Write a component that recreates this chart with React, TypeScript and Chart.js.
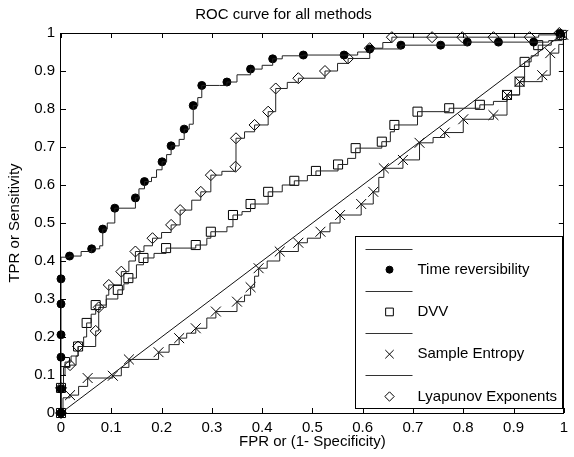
import { useEffect, useRef } from 'react';
import { Chart, registerables } from 'chart.js';

Chart.register(...registerables);

const FONT_FAMILY = '"Liberation Sans", Arial, Helvetica, sans-serif';

const TITLE = 'ROC curve for all methods';
const X_TITLE = 'FPR or (1- Specificity)';
const Y_TITLE = 'TPR or Sensitivity';

const TICK_VALUES = [0, 0.1, 0.2, 0.3, 0.4, 0.5, 0.6, 0.7, 0.8, 0.9, 1];
const TICK_LABELS = ['0', '0.1', '0.2', '0.3', '0.4', '0.5', '0.6', '0.7', '0.8', '0.9', '1'];

const SERIES_NAMES = ['Time reversibility', 'DVV', 'Sample Entropy', 'Lyapunov Exponents'];

// Time reversibility
const TR_LINE_X = [0, 0, 0.017, 0.04, 0.061, 0.077, 0.083, 0.092, 0.107, 0.148, 0.155, 0.166, 0.18, 0.19, 0.201, 0.21, 0.219, 0.235, 0.245, 0.255, 0.263, 0.272, 0.28, 0.315, 0.33, 0.35, 0.377, 0.40, 0.421, 0.44, 0.482, 0.563, 0.59, 0.614, 0.676, 0.755, 0.808, 0.87, 0.94, 0.97, 0.985, 0.992, 1];
const TR_LINE_Y = [0, 0.41, 0.413, 0.425, 0.432, 0.44, 0.484, 0.50, 0.539, 0.566, 0.59, 0.609, 0.62, 0.64, 0.661, 0.68, 0.703, 0.72, 0.747, 0.76, 0.809, 0.83, 0.862, 0.862, 0.871, 0.89, 0.905, 0.915, 0.932, 0.94, 0.942, 0.942, 0.95, 0.958, 0.968, 0.968, 0.976, 0.976, 0.976, 0.98, 0.99, 0.999, 1];
const TR_MARK_X = [0, 0, 0, 0, 0, 0, 0.017, 0.061, 0.083, 0.107, 0.148, 0.166, 0.201, 0.219, 0.245, 0.263, 0.28, 0.33, 0.377, 0.421, 0.482, 0.563, 0.614, 0.676, 0.755, 0.808, 0.87, 0.94, 0.992];
const TR_MARK_Y = [0, 0.063, 0.147, 0.206, 0.287, 0.353, 0.413, 0.432, 0.484, 0.539, 0.566, 0.609, 0.661, 0.703, 0.747, 0.809, 0.862, 0.871, 0.905, 0.932, 0.942, 0.942, 0.958, 0.968, 0.968, 0.976, 0.976, 0.976, 0.999];

// DVV
const DVV_LINE_X = [0, 0, 0.005, 0.008, 0.02, 0.034, 0.045, 0.051, 0.06, 0.069, 0.09, 0.113, 0.125, 0.134, 0.15, 0.164, 0.185, 0.209, 0.268, 0.29, 0.298, 0.33, 0.342, 0.36, 0.377, 0.412, 0.44, 0.464, 0.49, 0.507, 0.551, 0.57, 0.586, 0.638, 0.655, 0.663, 0.709, 0.772, 0.833, 0.86, 0.887, 0.912, 0.922, 0.935, 0.949, 0.975, 0.996, 1];
const DVV_LINE_Y = [0, 0.066, 0.1, 0.134, 0.15, 0.175, 0.2, 0.237, 0.26, 0.284, 0.30, 0.324, 0.34, 0.355, 0.39, 0.408, 0.42, 0.434, 0.442, 0.46, 0.477, 0.49, 0.521, 0.53, 0.55, 0.582, 0.60, 0.611, 0.625, 0.637, 0.654, 0.67, 0.697, 0.714, 0.74, 0.758, 0.793, 0.802, 0.811, 0.82, 0.837, 0.872, 0.924, 0.94, 0.968, 0.98, 0.995, 1];
const DVV_MARK_X = [0, 0, 0.008, 0.034, 0.051, 0.069, 0.113, 0.134, 0.164, 0.209, 0.268, 0.298, 0.342, 0.377, 0.412, 0.464, 0.507, 0.551, 0.586, 0.638, 0.663, 0.709, 0.772, 0.833, 0.887, 0.912, 0.922, 0.949, 0.996];
const DVV_MARK_Y = [0, 0.066, 0.134, 0.175, 0.237, 0.284, 0.324, 0.355, 0.408, 0.434, 0.442, 0.477, 0.521, 0.55, 0.582, 0.611, 0.637, 0.654, 0.697, 0.714, 0.758, 0.793, 0.802, 0.811, 0.837, 0.872, 0.924, 0.968, 0.995];

// Sample Entropy
const SE_LINE_X = [0, 0.004, 0.018, 0.035, 0.053, 0.103, 0.12, 0.135, 0.194, 0.215, 0.235, 0.25, 0.268, 0.29, 0.308, 0.35, 0.365, 0.377, 0.385, 0.393, 0.41, 0.435, 0.472, 0.49, 0.516, 0.535, 0.555, 0.597, 0.621, 0.632, 0.642, 0.68, 0.713, 0.74, 0.763, 0.80, 0.86, 0.887, 0.912, 0.957, 0.973, 0.99, 0.999, 1];
const SE_LINE_Y = [0, 0.04, 0.047, 0.07, 0.092, 0.098, 0.12, 0.141, 0.16, 0.18, 0.197, 0.21, 0.223, 0.25, 0.267, 0.293, 0.31, 0.331, 0.36, 0.381, 0.40, 0.425, 0.448, 0.46, 0.477, 0.50, 0.521, 0.55, 0.582, 0.62, 0.644, 0.666, 0.711, 0.725, 0.738, 0.773, 0.784, 0.837, 0.872, 0.889, 0.947, 0.97, 0.995, 1];
const SE_MARK_X = [0.018, 0.053, 0.103, 0.135, 0.194, 0.235, 0.268, 0.308, 0.35, 0.377, 0.393, 0.435, 0.472, 0.516, 0.555, 0.597, 0.621, 0.642, 0.68, 0.713, 0.763, 0.80, 0.86, 0.887, 0.912, 0.957, 0.973, 0.999];
const SE_MARK_Y = [0.047, 0.092, 0.098, 0.141, 0.16, 0.197, 0.223, 0.267, 0.293, 0.331, 0.381, 0.425, 0.448, 0.477, 0.521, 0.55, 0.582, 0.644, 0.666, 0.711, 0.738, 0.773, 0.784, 0.837, 0.872, 0.889, 0.947, 0.995];

// Lyapunov Exponents
const LE_LINE_X = [0, 0, 0.005, 0.018, 0.03, 0.034, 0.069, 0.075, 0.09, 0.095, 0.12, 0.135, 0.148, 0.165, 0.182, 0.2, 0.219, 0.237, 0.26, 0.278, 0.298, 0.32, 0.347, 0.348, 0.365, 0.385, 0.412, 0.427, 0.45, 0.472, 0.525, 0.55, 0.571, 0.614, 0.64, 0.658, 0.95, 0.991, 1];
const LE_LINE_Y = [0, 0.066, 0.12, 0.126, 0.15, 0.175, 0.216, 0.278, 0.31, 0.337, 0.372, 0.40, 0.425, 0.44, 0.46, 0.475, 0.495, 0.534, 0.56, 0.582, 0.626, 0.636, 0.648, 0.723, 0.74, 0.758, 0.793, 0.854, 0.87, 0.881, 0.9, 0.92, 0.933, 0.96, 0.975, 0.989, 0.995, 1, 1];
const LE_MARK_X = [0, 0, 0.018, 0.034, 0.069, 0.075, 0.095, 0.12, 0.148, 0.182, 0.219, 0.237, 0.278, 0.298, 0.347, 0.348, 0.385, 0.412, 0.427, 0.472, 0.525, 0.571, 0.614, 0.658, 0.738, 0.798, 0.86, 0.932, 0.991];
const LE_MARK_Y = [0, 0.066, 0.126, 0.175, 0.216, 0.278, 0.337, 0.372, 0.425, 0.46, 0.495, 0.534, 0.582, 0.626, 0.648, 0.723, 0.758, 0.793, 0.854, 0.881, 0.9, 0.933, 0.96, 0.989, 0.989, 0.989, 0.989, 0.989, 1];

// Chance diagonal
const DIAG_X = [0, 1];
const DIAG_Y = [0, 1];

const pts = (xs: number[], ys: number[]) => xs.map((x, i) => ({ x, y: ys[i] }));

function drawMarker(ctx: CanvasRenderingContext2D, style: string, r: number, filled: boolean, x: number, y: number) {
  ctx.save();
  ctx.strokeStyle = '#000';
  ctx.fillStyle = '#000';
  ctx.lineWidth = 1;
  ctx.beginPath();
  if (style === 'circle') {
    ctx.arc(x, y, r, 0, Math.PI * 2);
  } else if (style === 'rect') {
    const s = r * Math.SQRT1_2;
    ctx.rect(x - s, y - s, 2 * s, 2 * s);
  } else if (style === 'crossRot') {
    const s = r * Math.SQRT1_2;
    ctx.moveTo(x - s, y - s);
    ctx.lineTo(x + s, y + s);
    ctx.moveTo(x - s, y + s);
    ctx.lineTo(x + s, y - s);
  } else if (style === 'rectRot') {
    ctx.moveTo(x, y - r);
    ctx.lineTo(x + r, y);
    ctx.lineTo(x, y + r);
    ctx.lineTo(x - r, y);
    ctx.closePath();
  }
  if (filled) ctx.fill();
  ctx.stroke();
  ctx.restore();
}

const frameTicksPlugin = {
  id: 'frameTicks',
  afterDatasetsDraw(chart: any) {
    const { ctx, chartArea: a, scales } = chart;
    const xs = scales.x;
    const ys = scales.y;
    ctx.save();
    ctx.strokeStyle = '#000';
    ctx.lineWidth = 1;
    ctx.beginPath();
    TICK_VALUES.forEach((v) => {
      const px = Math.round(xs.getPixelForValue(v)) + 0.5;
      ctx.moveTo(px, a.bottom);
      ctx.lineTo(px, a.bottom - 5);
      ctx.moveTo(px, a.top);
      ctx.lineTo(px, a.top + 5);
      const py = Math.round(ys.getPixelForValue(v)) + 0.5;
      ctx.moveTo(a.left, py);
      ctx.lineTo(a.left + 5, py);
      ctx.moveTo(a.right, py);
      ctx.lineTo(a.right - 5, py);
    });
    ctx.stroke();
    ctx.strokeRect(Math.round(a.left) - 0.5, Math.round(a.top) + 0.5, Math.round(a.right - a.left), Math.round(a.bottom - a.top));
    ctx.restore();
  },
};

const legendPlugin = {
  id: 'matlabLegend',
  afterDraw(chart: any) {
    const { ctx, chartArea: a } = chart;
    const left = Math.round(a.left + 294) + 0.5;
    const right = Math.round(a.right - 2) + 0.5;
    const top = Math.round(a.top + 203) + 0.5;
    const bottom = Math.round(a.bottom - 5) + 0.5;
    ctx.save();
    ctx.fillStyle = '#fff';
    ctx.fillRect(left, top, right - left, bottom - top);
    ctx.strokeStyle = '#000';
    ctx.lineWidth = 1;
    ctx.strokeRect(left, top, right - left, bottom - top);
    const items = chart.data.datasets.filter((d: any) => d.inLegend);
    const rowH = (bottom - top - 24) / (items.length - 1);
    items.forEach((d: any, i: number) => {
      const y = top + 12 + i * rowH;
      if (d.showLine) {
        ctx.beginPath();
        ctx.strokeStyle = '#333';
        ctx.moveTo(left + 10, Math.round(y) + 0.5);
        ctx.lineTo(left + 57, Math.round(y) + 0.5);
        ctx.stroke();
      } else {
        const r = d.pointStyle === 'circle' ? 3.5 : d.pointRadius * 0.85;
        drawMarker(ctx, d.pointStyle, r, d.pointStyle === 'circle', left + 34, y);
      }
      if (d.label) {
        ctx.fillStyle = '#000';
        ctx.font = `15px ${FONT_FAMILY}`;
        ctx.textBaseline = 'middle';
        ctx.textAlign = 'left';
        ctx.fillText(d.label, left + 62, y);
      }
    });
    ctx.restore();
  },
};

const lineDs = (xs: number[], ys: number[]) => ({
  label: '',
  data: pts(xs, ys),
  showLine: true,
  stepped: 'before',
  borderColor: '#222',
  borderWidth: 1,
  pointRadius: 0,
  inLegend: true,
  clip: false,
});

const markDs = (label: string, xs: number[], ys: number[], style: string, radius: number, filled: boolean) => ({
  label,
  data: pts(xs, ys),
  showLine: false,
  pointStyle: style,
  pointRadius: radius,
  pointBorderWidth: 1,
  pointBorderColor: '#000',
  pointBackgroundColor: filled ? '#000' : 'rgba(0,0,0,0)',
  inLegend: true,
  clip: false,
});

export default function App() {
  const ref = useRef<HTMLCanvasElement | null>(null);

  useEffect(() => {
    if (!ref.current) return;
    const font = { family: FONT_FAMILY, size: 15, weight: 'normal' as const };
    const tickCfg = {
      color: '#000',
      font,
      padding: 6,
      autoSkip: false,
      maxRotation: 0,
      callback: (_v: any, i: number) => TICK_LABELS[i],
    };
    const chart = new Chart(ref.current, {
      type: 'scatter',
      data: {
        datasets: [
          lineDs(TR_LINE_X, TR_LINE_Y),
          markDs(SERIES_NAMES[0], TR_MARK_X, TR_MARK_Y, 'circle', 4, true),
          lineDs(DVV_LINE_X, DVV_LINE_Y),
          markDs(SERIES_NAMES[1], DVV_MARK_X, DVV_MARK_Y, 'rect', 6.4, false),
          lineDs(SE_LINE_X, SE_LINE_Y),
          markDs(SERIES_NAMES[2], SE_MARK_X, SE_MARK_Y, 'crossRot', 7, false),
          lineDs(LE_LINE_X, LE_LINE_Y),
          markDs(SERIES_NAMES[3], LE_MARK_X, LE_MARK_Y, 'rectRot', 5.5, false),
          {
            label: '',
            data: pts(DIAG_X, DIAG_Y),
            showLine: true,
            borderColor: '#111',
            borderWidth: 1,
            pointRadius: 0,
            inLegend: false,
          },
        ] as any,
      },
      options: {
        responsive: false,
        animation: false,
        events: [],
        layout: { padding: { left: 0, right: 7, top: 0, bottom: 0 } },
        plugins: {
          legend: { display: false },
          tooltip: { enabled: false },
          title: {
            display: true,
            text: TITLE,
            color: '#000',
            font,
            padding: { top: 6, bottom: 9 },
          },
        },
        scales: {
          x: {
            type: 'linear',
            position: 'bottom',
            min: 0,
            max: 1,
            grid: { display: false, drawTicks: false },
            border: { display: false },
            ticks: tickCfg,
            title: { display: true, text: X_TITLE, color: '#000', font, padding: { top: 0, bottom: 6 } },
            afterBuildTicks: (s: any) => {
              s.ticks = TICK_VALUES.map((value) => ({ value }));
            },
            afterFit: (s: any) => {
              s.height = 44;
            },
          },
          y: {
            type: 'linear',
            position: 'left',
            min: 0,
            max: 1,
            grid: { display: false, drawTicks: false },
            border: { display: false },
            ticks: tickCfg,
            title: { display: true, text: Y_TITLE, color: '#000', font, padding: { top: 6, bottom: 0 } },
            afterBuildTicks: (s: any) => {
              s.ticks = TICK_VALUES.map((value) => ({ value }));
            },
            afterFit: (s: any) => {
              s.width = 61;
            },
          },
        },
      } as any,
      plugins: [frameTicksPlugin, legendPlugin],
    });
    return () => chart.destroy();
  }, []);

  return (
    <div style={{ position: 'fixed', left: 0, top: 0, width: 574, height: 457, background: '#fff' }}>
      <canvas ref={ref} width={574} height={457} />
    </div>
  );
}
